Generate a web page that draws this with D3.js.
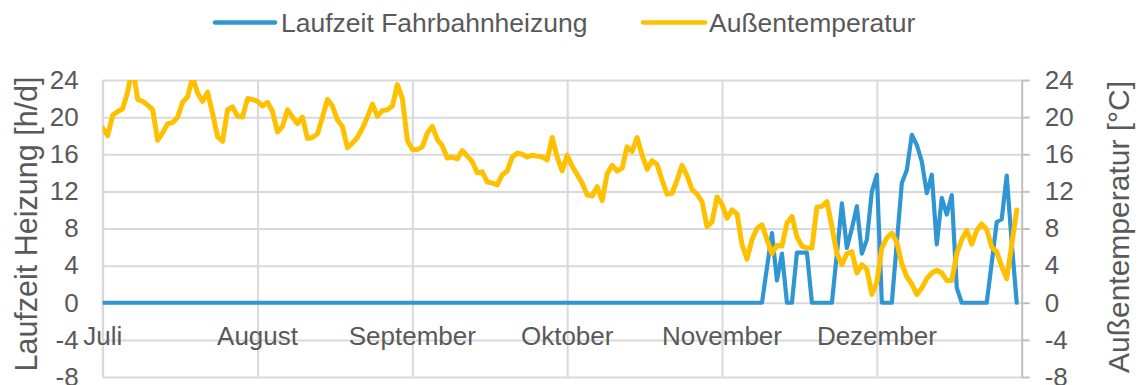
<!DOCTYPE html>
<html>
<head>
<meta charset="utf-8">
<script src="https://cdn.jsdelivr.net/npm/d3@7/dist/d3.min.js"></script>
<style>
  html, body { margin: 0; padding: 0; background: #fff; }
  svg { display: block; font-family: "Liberation Sans", Arial, sans-serif; }
</style>
</head>
<body>
<svg id="chart" width="1142" height="385"></svg>
<script>
// Month labels shown along the time axis (one every 31 days)
const monthLabels = ["Juli", "August", "September", "Oktober", "November", "Dezember"];
const monthTickDays = [0, 31, 62, 93, 124, 155];

// Y axis ticks (shared range for both axes)
const yTicks = [-8, -4, 0, 4, 8, 12, 16, 20, 24];

// Daily outdoor temperature [°C], 1 July – 31 December
const temperature = [
  18.8, 18.0, 20.2, 20.6, 20.9, 22.7, 25.5, 21.9, 21.7, 21.3,
  20.8, 17.5, 18.3, 19.3, 19.4, 20.0, 21.6, 22.2, 24.3, 22.6,
  21.7, 22.7, 20.4, 17.9, 17.4, 20.8, 21.1, 20.1, 20.0, 22.0,
  21.9, 21.7, 21.2, 21.6, 20.6, 18.4, 19.0, 20.8, 20.0, 19.3,
  20.0, 17.7, 17.8, 18.2, 20.0, 21.9, 21.2, 19.7, 19.0, 16.7,
  17.2, 17.8, 18.8, 20.0, 21.4, 20.1, 20.7, 20.8, 21.2, 23.5,
  22.0, 17.5, 16.5, 16.5, 16.8, 18.3, 19.0, 17.6, 16.9, 15.6,
  15.7, 15.5, 16.4, 15.8, 15.2, 14.0, 14.1, 13.0, 12.9, 12.7,
  13.8, 14.2, 15.7, 16.1, 16.0, 15.7, 15.9, 15.8, 15.7, 15.4,
  17.8, 15.7, 14.2, 15.9, 14.7, 13.8, 12.9, 11.6, 11.5, 12.5,
  11.0, 13.9, 14.8, 14.2, 14.5, 16.8, 16.3, 17.8, 15.9, 14.4,
  15.3, 14.9, 13.2, 11.7, 11.8, 13.2, 14.8, 13.7, 12.2, 11.7,
  10.9, 8.2, 8.7, 11.4, 10.6, 9.1, 10.0, 9.6, 6.3, 4.7,
  6.8, 8.0, 8.4, 6.8, 5.3, 6.2, 6.1, 8.6, 9.3, 7.1,
  6.1, 5.9, 5.9, 10.3, 10.4, 10.9, 8.2, 5.3, 4.1, 5.3,
  5.5, 3.2, 4.1, 3.6, 0.9, 2.2, 5.9, 7.0, 7.5, 6.5,
  4.2, 2.8, 2.0, 0.9, 1.6, 2.6, 3.2, 3.5, 3.2, 2.4,
  2.4, 5.3, 6.8, 7.8, 6.3, 7.8, 8.5, 7.9, 6.0, 5.5,
  3.9, 2.6, 6.2, 10.0
];

// Daily running time of the road heating [h/d]; off from July to mid November
const heatingOff = new Array(133).fill(0);
const heatingWinter = [
  3.8, 7.5, 2.4, 5.3, 0, 0, 5.4, 5.4, 5.4, 0,
  0, 0, 0, 0, 5.3, 10.7, 5.9, 8.0, 10.4, 5.3,
  6.8, 12.0, 13.8, 0, 0, 0, 6.5, 12.9, 14.3, 18.1,
  17.0, 15.2, 11.8, 13.8, 6.3, 11.3, 9.5, 11.6, 1.6, 0,
  0, 0, 0, 0, 0, 4.3, 8.7, 9.0, 13.7, 6.5,
  0
];
const heating = heatingOff.concat(heatingWinter);

const seriesNames = ["Laufzeit Fahrbahnheizung", "Außentemperatur"];
const seriesColors = ["#2F96D3", "#FFC000"];

const svg = d3.select("#chart");
const textColor = "#595959";
const fontFamily = "Liberation Sans, Arial, sans-serif";
const tickText = d => String(d); // plain hyphen for negative values

const plot = { left: 102.7, right: 1021.7, top: 80, bottom: 377 };

const x = d3.scaleLinear().domain([0, 184]).range([plot.left, plot.right]);
const yL = d3.scaleLinear().domain([-8, 24]).range([plot.bottom, plot.top]);
const yR = d3.scaleLinear().domain([-8, 24]).range([plot.bottom, plot.top]);

// Horizontal gridlines
svg.append("g")
  .attr("transform", `translate(${plot.left},0)`)
  .call(d3.axisLeft(yL).tickValues(yTicks).tickSize(-(plot.right - plot.left)).tickFormat(""))
  .call(g => g.select(".domain").remove())
  .call(g => g.selectAll("line").attr("stroke", "#D9D9D9").attr("stroke-width", 2));

// Vertical gridlines at month marks
svg.append("g")
  .attr("transform", `translate(0,${plot.bottom})`)
  .call(d3.axisBottom(x).tickValues(monthTickDays).tickSize(-(plot.bottom - plot.top)).tickFormat(""))
  .call(g => g.select(".domain").remove())
  .call(g => g.selectAll("line").attr("stroke", "#D9D9D9").attr("stroke-width", 2));

// Left axis line
svg.append("line")
  .attr("x1", plot.left).attr("x2", plot.left)
  .attr("y1", plot.top).attr("y2", plot.bottom)
  .attr("stroke", "#D9D9D9").attr("stroke-width", 2);

// Left axis labels
const leftAxis = svg.append("g")
  .attr("transform", `translate(${plot.left},0)`)
  .call(d3.axisLeft(yL).tickValues(yTicks).tickSize(0).tickPadding(24).tickFormat(tickText));
leftAxis.select(".domain").remove();
leftAxis.selectAll("text").attr("fill", textColor).attr("font-size", 26)
  .attr("font-family", fontFamily);

// Right axis with outward ticks
const rightAxis = svg.append("g")
  .attr("transform", `translate(${plot.right},0)`)
  .call(d3.axisRight(yR).tickValues(yTicks).tickSize(8).tickPadding(15).tickFormat(tickText).tickSizeOuter(0));
rightAxis.select(".domain").attr("stroke", "#BFBFBF").attr("stroke-width", 2);
rightAxis.selectAll("line").attr("stroke", "#BFBFBF").attr("stroke-width", 2);
rightAxis.selectAll("text").attr("fill", textColor).attr("font-size", 26)
  .attr("font-family", fontFamily);

// Clip lines to the plot area
svg.append("clipPath").attr("id", "plotClip")
  .append("rect")
  .attr("x", plot.left).attr("y", plot.top)
  .attr("width", plot.right - plot.left).attr("height", plot.bottom - plot.top);

const lineL = d3.line().x((d, i) => x(i)).y(d => yL(d));
const lineR = d3.line().x((d, i) => x(i)).y(d => yR(d));

const lines = svg.append("g").attr("clip-path", "url(#plotClip)");
lines.append("path").datum(heating)
  .attr("d", lineL).attr("fill", "none")
  .attr("stroke", seriesColors[0]).attr("stroke-width", 4.2)
  .attr("stroke-linejoin", "round").attr("stroke-linecap", "round");
lines.append("path").datum(temperature)
  .attr("d", lineR).attr("fill", "none")
  .attr("stroke", seriesColors[1]).attr("stroke-width", 5)
  .attr("stroke-linejoin", "round").attr("stroke-linecap", "round");

// Month labels along the time axis
svg.append("g").selectAll("text")
  .data(monthLabels)
  .join("text")
  .attr("x", (d, i) => x(monthTickDays[i]))
  .attr("y", 345)
  .attr("text-anchor", "middle")
  .attr("font-size", 26)
  .attr("fill", textColor)
  .text(d => d);

// Axis titles
svg.append("text")
  .attr("transform", "translate(37,224) rotate(-90)")
  .attr("text-anchor", "middle")
  .attr("font-size", 30.5)
  .attr("fill", textColor)
  .text("Laufzeit Heizung [h/d]");

svg.append("text")
  .attr("transform", "translate(1129,227) rotate(-90)")
  .attr("text-anchor", "middle")
  .attr("font-size", 30)
  .attr("fill", textColor)
  .text("Außentemperatur [°C]");

// Legend
const legendItems = [
  { x1: 215, x2: 275, tx: 281 },
  { x1: 643, x2: 705, tx: 709 }
];
const legend = svg.append("g");
legendItems.forEach((it, i) => {
  legend.append("line")
    .attr("x1", it.x1).attr("x2", it.x2)
    .attr("y1", 22.5).attr("y2", 22.5)
    .attr("stroke", seriesColors[i]).attr("stroke-width", 4.5)
    .attr("stroke-linecap", "round");
  legend.append("text")
    .attr("x", it.tx).attr("y", 31.5)
    .attr("font-size", 26.5)
    .attr("fill", textColor)
    .text(seriesNames[i]);
});
</script>
</body>
</html>
